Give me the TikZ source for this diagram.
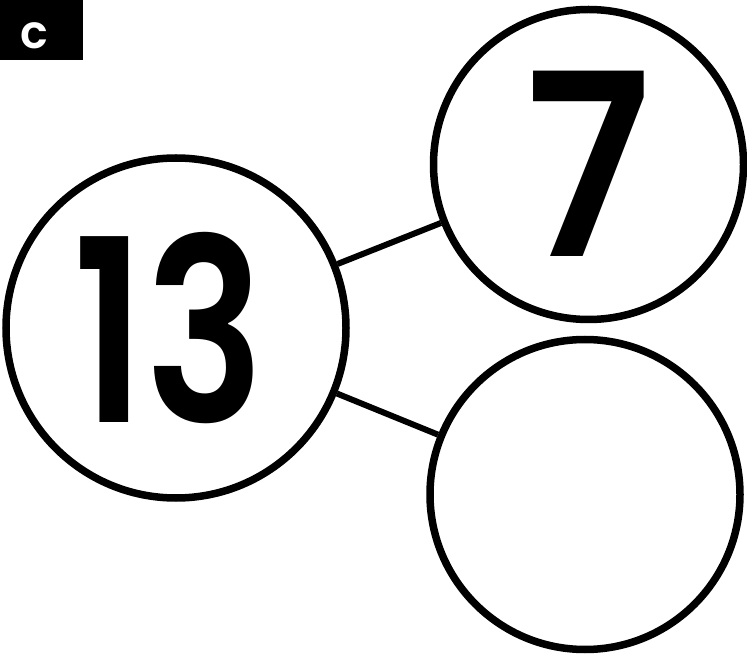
\documentclass[tikz,border=0pt]{standalone}
\usepackage{fontspec}
\setmainfont{Poppins}[BoldFont={* SemiBold}]
\usepackage{tikz}
\usetikzlibrary{shapes,arrows}

\begin{document}
\begin{tikzpicture}[kreis/.style={draw, circle, line width=7.5pt, inner sep=0pt, minimum size=#1},
				zahl/.style={font=\fontsize{255}{255}\selectfont\bfseries},
				x=1pt, y=1pt]
				% Bildbereich festlegen
				\useasboundingbox (0,0) rectangle (747,654);
				% Kaestchen oben links
				\fill[black] (0,594) rectangle (83,654);
				\node[text=white, inner sep=0pt, font=\fontsize{46}{46}\selectfont\bfseries, anchor=base] (lbl) at (34,605) {c};
				% Kreise zeichnen
				\node[kreis=340pt, zahl] (n13) at (176,326) {\raisebox{2pt}{\hspace*{-14pt}\scalebox{0.78}[1]{13}}};
				\node[kreis=310pt, zahl] (n7) at (588.5,489.5) {\raisebox{2pt}{\scalebox{0.9}[1]{7}}};
				\node[kreis=310pt] (leer) at (585,159.5) {};
				% Verbindungen
				\foreach \ziel in {n7,leer} \draw[line width=6pt] (n13) -- (\ziel);
			\end{tikzpicture}
\end{document}
